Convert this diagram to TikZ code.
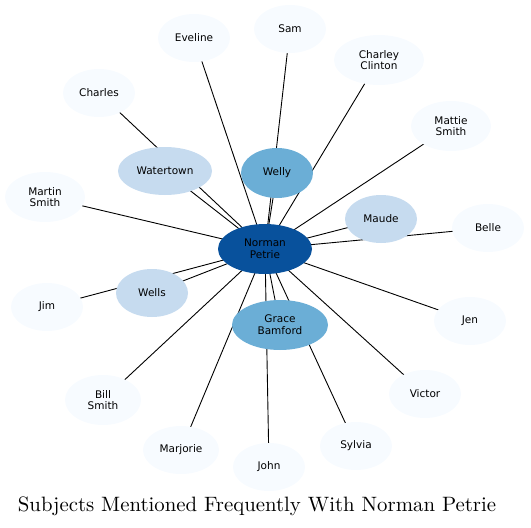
\documentclass[tikz,border=0pt]{standalone}
\usepackage{fontspec}
\setsansfont{DejaVu Sans}
\newfontfamily\titlefont{lmroman10-regular.otf}
\usepackage{tikz}
\usetikzlibrary{shapes.geometric,backgrounds}

\definecolor{bluedark}{HTML}{08519C}
\definecolor{bluemid}{HTML}{6BAED6}
\definecolor{bluelight}{HTML}{C6DBEF}
\definecolor{bluepale}{HTML}{F7FBFF}

\begin{document}
\begin{tikzpicture}[x=1pt,y=-1pt,
  subj/.style={ellipse,inner sep=0pt,align=center,
    font=\sffamily\fontsize{10.5}{11.7}\selectfont,
    minimum width=72pt,minimum height=48pt},
  pale/.style={subj,fill=bluepale},
  light/.style={subj,fill=bluelight},
  mid/.style={subj,fill=bluemid},
  hub/.style={subj,fill=bluedark,minimum width=94pt,minimum height=50pt},
  link/.style={black,line width=0.9pt}]
  \useasboundingbox (0,0) rectangle (531,528);
  % centre
  \node[hub] (norman) at (265,249) {Norman\\Petrie};
  % inner ring
  \node[mid] (welly) at (277,173) [minimum height=50pt] {Welly};
  \node[mid] (grace) at (280,325) [minimum width=96pt,minimum height=50pt] {Grace\\Bamford};
  \node[light] (watertown) at (165,171) [minimum width=94pt] {Watertown};
  \node[light] (maude) at (381,219) {Maude};
  \node[light] (wells) at (152,293) {Wells};
  % outer ring
  \node[pale] (eveline) at (194,38) {Eveline};
  \node[pale] (sam) at (290,29) {Sam};
  \node[pale] (charley) at (379,60) [minimum width=90pt,minimum height=50pt] {Charley\\Clinton};
  \node[pale] (charles) at (99,93) {Charles};
  \node[pale] (mattie) at (451,126) [minimum width=80pt,minimum height=50pt] {Mattie\\Smith};
  \node[pale] (martin) at (45,197) [minimum width=80pt,minimum height=50pt] {Martin\\Smith};
  \node[pale] (belle) at (488,228) {Belle};
  \node[pale] (jim) at (47,307) {Jim};
  \node[pale] (jen) at (470,321) {Jen};
  \node[pale] (victor) at (425,394) {Victor};
  \node[pale] (bill) at (103,400) [minimum width=76pt,minimum height=50pt] {Bill\\Smith};
  \node[pale] (marjorie) at (181,450) [minimum width=76pt] {Marjorie};
  \node[pale] (sylvia) at (356,446) {Sylvia};
  \node[pale] (john) at (269,467) {John};
  % links, behind the nodes
  \begin{scope}[on background layer]
    \foreach \s in {welly,grace,watertown,maude,wells,eveline,sam,charley,charles,
      mattie,martin,belle,jim,jen,victor,bill,marjorie,sylvia,john}
      \draw[link] (norman.center) -- (\s.center);
  \end{scope}
  \node[font=\titlefont\fontsize{20.8}{24}\selectfont] (title) at (257,506) {Subjects Mentioned Frequently With Norman Petrie};
\end{tikzpicture}
\end{document}
